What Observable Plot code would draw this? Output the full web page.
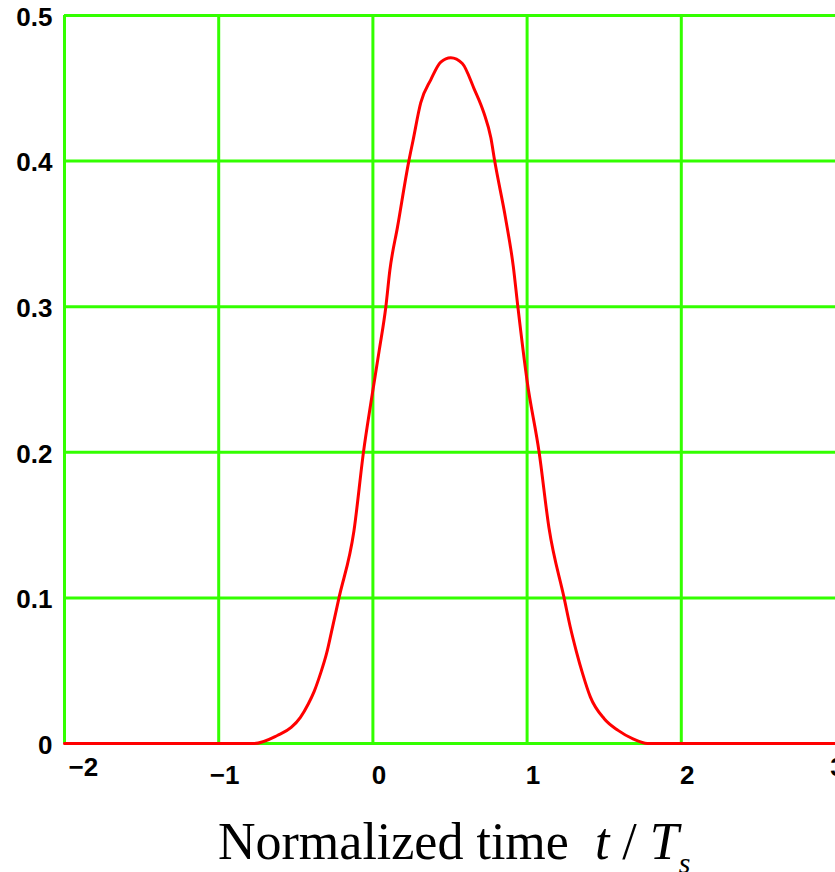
<!DOCTYPE html>
<html>
<head>
<meta charset="utf-8">
<script src="https://cdn.jsdelivr.net/npm/d3@7"></script>
<script src="https://cdn.jsdelivr.net/npm/@observablehq/plot@0.6"></script>
<style>
  html, body { margin: 0; padding: 0; background: #fff; overflow: hidden; }
  #wrap { position: relative; width: 835px; height: 872px; }
  #xlabel {
    position: absolute; left: 218px; top: 816px;
    font-family: "Liberation Serif", "Times New Roman", serif;
    font-size: 52px; line-height: 52px; white-space: pre; color: #000;
  }
  #xlabel i { font-style: italic; }
  #xlabel sub { font-size: 30px; vertical-align: -14px; line-height: 0; }
</style>
</head>
<body>
<div id="wrap"><div id="xlabel">Normalized time  <i>t</i> / <i>T<sub>s</sub></i></div></div>
<script>
// Pulse shape (t / Ts, amplitude)
const tValues = [-2, -0.77, -0.62, -0.53, -0.47, -0.42, -0.38, -0.34, -0.30, -0.27, -0.22, -0.123, -0.06, -0.013,
  0.041, 0.084, 0.11, 0.16, 0.233, 0.26, 0.31, 0.376, 0.44, 0.505, 0.58, 0.655, 0.72, 0.765, 0.79, 0.86,
  0.91, 0.94, 1.0, 1.078, 1.142, 1.24, 1.28, 1.32, 1.36, 1.41, 1.5, 1.59, 1.69, 1.78, 3];
const yValues = [0, 0, 0.0055, 0.011, 0.018, 0.027, 0.036, 0.048, 0.062, 0.076, 0.1, 0.146, 0.201, 0.234,
  0.27, 0.3, 0.325, 0.355, 0.4, 0.414, 0.44, 0.456, 0.468, 0.471, 0.467, 0.45, 0.433, 0.416, 0.4, 0.361,
  0.328, 0.3, 0.249, 0.2, 0.148, 0.1, 0.08, 0.063, 0.048, 0.032, 0.017, 0.009, 0.003, 0, 0];

const xGrid = [-2, -1, 0, 1, 2];
const yGrid = [0, 0.1, 0.2, 0.3, 0.4, 0.5];
const xTickLabels = [-1, 0, 1, 2];
const xFirstLabel = [-2];
const xLastLabel = [3];
const yTickLabels = [0, 0.1, 0.2, 0.3, 0.4, 0.5];

const pulse = tValues.map((t, i) => ({t, y: yValues[i]}));

const green = "#33ff00";
const fmt = d => d < 0 ? "\u2212" + Math.abs(d) : String(d);

const chart = Plot.plot({
  width: 835,
  height: 790,
  marginLeft: 64,
  marginRight: 0,
  marginTop: 15,
  marginBottom: 47,
  style: {fontSize: "26px", fontFamily: "'Liberation Sans', Arial, sans-serif", fontWeight: "bold", background: "#fff", overflow: "visible"},
  x: {domain: [-2, 3]},
  y: {domain: [0, 0.5]},
  marks: [
    Plot.ruleX(xGrid, {stroke: green, strokeWidth: 3}),
    Plot.ruleY(yGrid, {stroke: green, strokeWidth: 3}),
    Plot.line(pulse, {x: "t", y: "y", stroke: "#ff0000", strokeWidth: 3, curve: "monotone-x"}),
    Plot.axisX(xTickLabels, {tickSize: 0, tickPadding: 22, dx: 6, label: null, fontSize: 26, fill: "#000", tickFormat: fmt}),
    Plot.text(xFirstLabel, {x: d => d, frameAnchor: "bottom", dy: 32, dx: 4, textAnchor: "start",
      text: fmt, fontSize: 26, fill: "#000"}),
    Plot.text(xLastLabel, {x: d => d, frameAnchor: "bottom", dy: 32, dx: 2,
      text: fmt, fontSize: 26, fill: "#000"}),
    Plot.axisY(yTickLabels, {tickSize: 0, tickPadding: 12, dy: 2, label: null, fontSize: 26, fill: "#000",
      tickFormat: d => d === 0 ? "0" : d.toFixed(1)})
  ]
});
document.getElementById("wrap").prepend(chart);
</script>
</body>
</html>
